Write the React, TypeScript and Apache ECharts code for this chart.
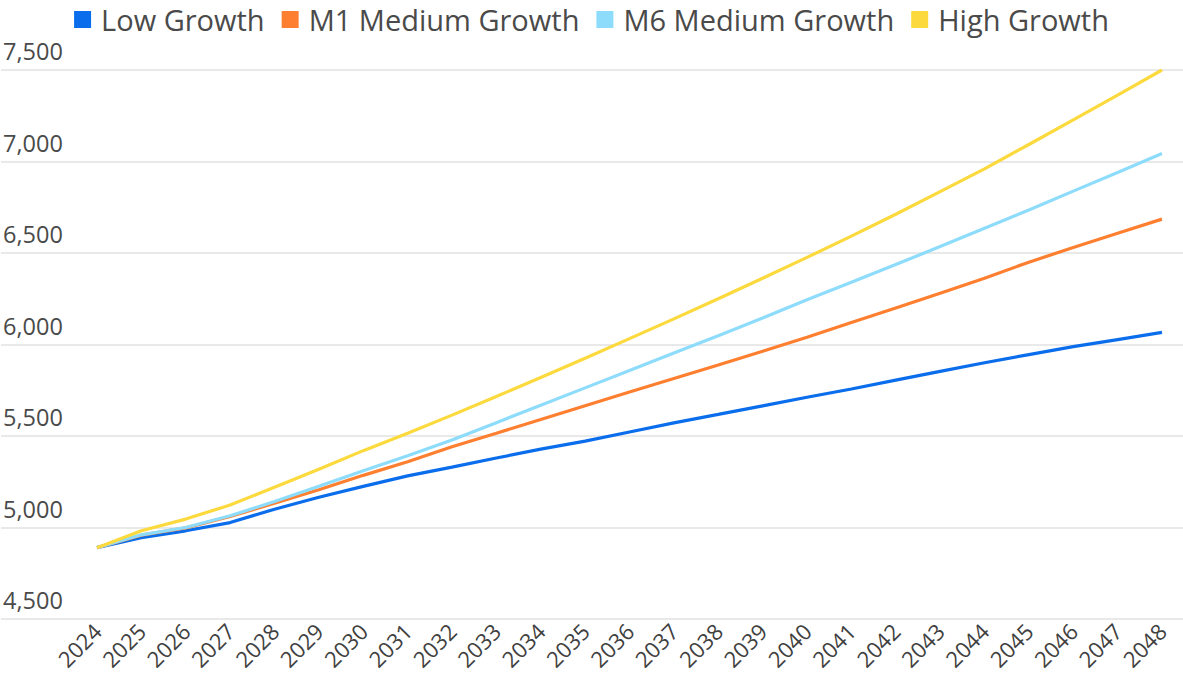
import React, { useEffect, useRef } from "react";
import * as echarts from "echarts";

const years = [
  "2024", "2025", "2026", "2027", "2028", "2029", "2030", "2031", "2032",
  "2033", "2034", "2035", "2036", "2037", "2038", "2039", "2040", "2041",
  "2042", "2043", "2044", "2045", "2046", "2047", "2048",
];

const lowGrowth = [
  4890, 4945, 4982, 5027, 5100, 5165, 5225, 5282, 5330, 5380, 5428, 5472,
  5522, 5572, 5618, 5665, 5712, 5757, 5805, 5853, 5900, 5945, 5988, 6027, 6066,
];
const m1MediumGrowth = [
  4890, 4958, 4998, 5060, 5133, 5206, 5285, 5359, 5441, 5515, 5590, 5665,
  5740, 5814, 5888, 5963, 6040, 6120, 6200, 6280, 6362, 6450, 6530, 6608, 6685,
];
const m6MediumGrowth = [
  4890, 4960, 5000, 5064, 5142, 5226, 5310, 5392, 5478, 5573, 5668, 5763,
  5858, 5953, 6048, 6145, 6245, 6340, 6437, 6535, 6635, 6735, 6838, 6940, 7044,
];
const highGrowth = [
  4890, 4982, 5046, 5123, 5220, 5318, 5420, 5515, 5614, 5716, 5820, 5925,
  6032, 6140, 6250, 6362, 6476, 6592, 6712, 6835, 6960, 7093, 7227, 7363, 7500,
];

const seriesNames = ["Low Growth", "M1 Medium Growth", "M6 Medium Growth", "High Growth"];
const seriesColors = ["#0A6DEB", "#FF7F30", "#8EDCFC", "#FCD93C"];
const seriesData = [lowGrowth, m1MediumGrowth, m6MediumGrowth, highGrowth];

const yMin = 4500;
const yMax = 7500;
const yStep = 500;

const FONT = "Open Sans";

export default function App() {
  const ref = useRef<HTMLDivElement>(null);

  useEffect(() => {
    if (!ref.current) return;
    const chart = echarts.init(ref.current, null, { renderer: "svg" });
    chart.setOption({
      animation: false,
      backgroundColor: "#ffffff",
      textStyle: { fontFamily: FONT },
      legend: {
        top: 0,
        left: "center",
        icon: "rect",
        itemWidth: 17,
        itemHeight: 17,
        itemGap: 17,
        data: seriesNames,
        textStyle: {
          fontFamily: FONT,
          fontSize: 29,
          color: "#4a4a4a",
          padding: [0, 0, 0, 5],
        },
      },
      grid: [
        { left: 0, right: 0, top: 70, bottom: 64, containLabel: false },
        { left: 97, right: 21, top: 70, bottom: 64, containLabel: false },
      ],
      xAxis: [
        { type: "value", gridIndex: 0, show: false, min: 0, max: 1 },
        {
          type: "category",
          gridIndex: 1,
          data: years,
          boundaryGap: false,
          axisLine: { show: false },
          axisTick: { show: false },
          splitLine: { show: false },
          axisLabel: {
            rotate: 45,
            interval: 0,
            margin: 8,
            fontFamily: FONT,
            fontSize: 22,
            color: "#404040",
          },
        },
      ],
      yAxis: [
        {
          type: "value",
          gridIndex: 0,
          min: yMin,
          max: yMax,
          interval: yStep,
          axisLine: { show: false },
          axisTick: { show: false },
          splitLine: { show: true, lineStyle: { color: "#e2e2e2", width: 1.5 } },
          axisLabel: {
            inside: true,
            margin: 2,
            verticalAlign: "bottom",
            padding: [0, 0, 7, 0],
            fontFamily: FONT,
            fontSize: 23.5,
            color: "#4a4a4a",
            formatter: (v: number) => v.toLocaleString("en-US"),
          },
        },
        {
          type: "value",
          gridIndex: 1,
          min: yMin,
          max: yMax,
          interval: yStep,
          show: false,
          splitLine: { show: false },
        },
      ],
      series: seriesNames.map((name, i) => ({
        name,
        type: "line",
        xAxisIndex: 1,
        yAxisIndex: 1,
        data: seriesData[i],
        symbol: "none",
        showSymbol: false,
        color: seriesColors[i],
        lineStyle: { width: 3.2, color: seriesColors[i] },
        z: 2 + i,
      })),
    });
    return () => chart.dispose();
  }, []);

  return (
    <div
      ref={ref}
      style={{ position: "absolute", left: 0, top: 0, width: 1183, height: 683 }}
    />
  );
}
